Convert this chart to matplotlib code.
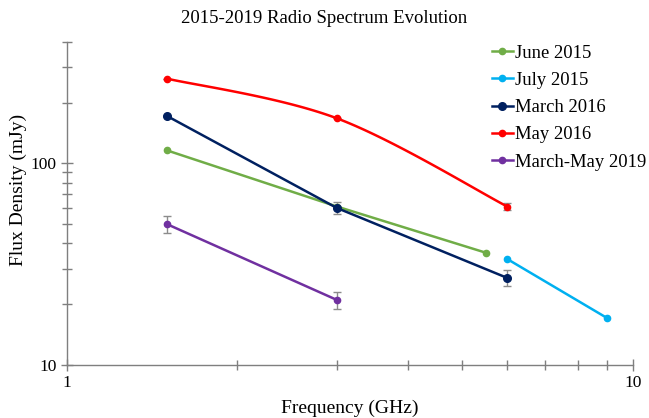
import numpy as np
import matplotlib
matplotlib.use("Agg")
import matplotlib.pyplot as plt
from matplotlib.ticker import LogLocator, NullFormatter, FixedFormatter, FixedLocator

plt.rcParams['font.family'] = ['Liberation Serif', 'DejaVu Serif']

# data (GHz, mJy)
june15_f = [1.5, 3.0, 5.5]
june15_s = [116, 61, 36]

july15_f = [6.0, 9.0]
july15_s = [33.5, 17.1]

mar16_f = [1.5, 3.0, 6.0]
mar16_s = [172, 60, 27]
mar16_err = [0, 4, 2.5]

may16_f = [1.5, 3.0, 6.0]
may16_s = [263, 167, 61]
may16_err = [0, 0, 2.2]

y2019_f = [1.5, 3.0]
y2019_s = [50, 21]
y2019_err = [5, 2]

labels = ["June 2015", "July 2015", "March 2016", "May 2016", "March-May 2019"]
colors = ["#70AD47", "#00B0F0", "#002060", "#FF0000", "#7030A0"]


def smooth(xs, ys, n=40):
    # Excel style smoothing (Catmull-Rom bezier) in screen-like log space
    sx, sy = 566.0, 201.6
    u = np.log10(xs) * sx
    v = np.log10(ys) * sy
    pts = np.column_stack([u, v])
    out = [pts[0]]
    for i in range(len(pts) - 1):
        p0 = pts[max(i - 1, 0)]
        p1 = pts[i]
        p2 = pts[i + 1]
        p3 = pts[min(i + 2, len(pts) - 1)]
        c1 = p1 + (p2 - p0) / 6.0
        c2 = p2 - (p3 - p1) / 6.0
        t = np.linspace(0, 1, n)[1:, None]
        seg = ((1 - t) ** 3) * p1 + 3 * ((1 - t) ** 2) * t * c1 + 3 * (1 - t) * t ** 2 * c2 + t ** 3 * p2
        out.extend(seg)
    out = np.array(out)
    return 10 ** (out[:, 0] / sx), 10 ** (out[:, 1] / sy)


fig = plt.figure(figsize=(6.49, 4.18), dpi=100)
ax = fig.add_axes([0.103, 0.127, 0.872, 0.773])

ms = 4.5
lw = 1.8
ecol = "#8c8c8c"

ax.plot(june15_f, june15_s, color=colors[0], lw=lw, marker="o", ms=ms, label=labels[0])
ax.plot(july15_f, july15_s, color=colors[1], lw=lw, marker="o", ms=ms, label=labels[1])

ax.errorbar(mar16_f, mar16_s, yerr=mar16_err, fmt="none", ecolor=ecol, elinewidth=1, capsize=3, zorder=1)
ax.plot(mar16_f, mar16_s, color=colors[2], lw=lw, marker="o", ms=ms + 1, label=labels[2])

ax.errorbar(may16_f, may16_s, yerr=may16_err, fmt="none", ecolor=ecol, elinewidth=1, capsize=3, zorder=1)
sx_, sy_ = smooth(may16_f, may16_s)
ax.plot(sx_, sy_, color=colors[3], lw=lw)
ax.plot(may16_f, may16_s, color=colors[3], lw=0, marker="o", ms=ms)
ax.plot([], [], color=colors[3], lw=lw, marker="o", ms=ms, label=labels[3])

ax.errorbar(y2019_f, y2019_s, yerr=y2019_err, fmt="none", ecolor=ecol, elinewidth=1, capsize=3, zorder=1)
ax.plot(y2019_f, y2019_s, color=colors[4], lw=lw, marker="o", ms=ms, label=labels[4])

ax.set_xscale("log")
ax.set_yscale("log")
ax.set_xlim(1, 10)
ax.set_ylim(10, 400)

ax.xaxis.set_major_locator(FixedLocator([1, 10]))
ax.xaxis.set_major_formatter(FixedFormatter(["1", "10"]))
ax.xaxis.set_minor_locator(LogLocator(base=10, subs=np.arange(2, 10)))
ax.xaxis.set_minor_formatter(NullFormatter())
ax.yaxis.set_major_locator(FixedLocator([10, 100]))
ax.yaxis.set_major_formatter(FixedFormatter(["10", "100"]))
ax.yaxis.set_minor_locator(LogLocator(base=10, subs=np.arange(2, 10)))
ax.yaxis.set_minor_formatter(NullFormatter())

for s in ["top", "right"]:
    ax.spines[s].set_visible(False)
for s in ["left", "bottom"]:
    ax.spines[s].set_color("#7f7f7f")
    ax.spines[s].set_linewidth(1)

ax.tick_params(which="both", direction="inout", color="#7f7f7f", labelsize=12.5)
ax.tick_params(which="major", length=8, width=1)
ax.tick_params(which="minor", length=7, width=1)

ax.set_xlabel("Frequency (GHz)", fontsize=14, labelpad=6)
ax.set_ylabel("Flux Density (mJy)", fontsize=14)
ax.yaxis.set_label_coords(-0.071, 0.54)
fig.suptitle("2015-2019 Radio Spectrum Evolution", fontsize=13.5, y=0.975)

ax.legend(loc="upper left", bbox_to_anchor=(0.7387, 0.9246), bbox_transform=fig.transFigure,
          frameon=False, fontsize=13.4, handlelength=1.08, handletextpad=0.12, labelspacing=0.55,
          borderpad=0.2)

fig.savefig("out.png", dpi=100)
